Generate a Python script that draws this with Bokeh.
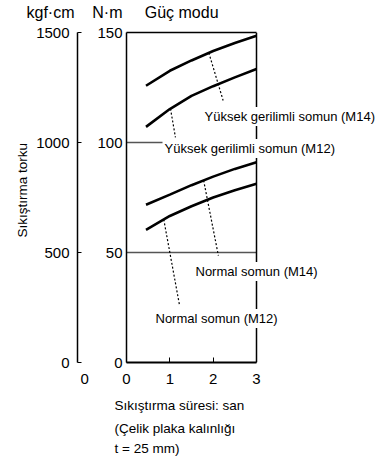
import numpy as np
from bokeh.plotting import figure
from bokeh.models import LinearAxis, Range1d, FixedTicker, Label, Span, Title
from bokeh.embed import file_html
from bokeh.resources import INLINE

# ---------------- data ----------------
time_s = [0.45, 1.0, 1.5, 2.0, 2.5, 3.0]
ht_m14 = [125.8, 132.6, 137.3, 141.6, 145.2, 148.5]
ht_m12 = [107.1, 115.2, 121.2, 125.6, 129.6, 133.4]
n_m14 = [71.7, 76.3, 80.6, 84.5, 88.0, 91.0]
n_m12 = [60.3, 66.6, 71.0, 75.0, 78.3, 81.2]
series_names = ["Yüksek gerilimli somun (M14)", "Yüksek gerilimli somun (M12)",
                "Normal somun (M14)", "Normal somun (M12)"]
x_ticks = [0, 1, 2, 3]
nm_ticks = [0, 50, 100, 150]
kgf_ticks = [0, 500, 1000, 1500]
ref_lines = [50, 100]

FONT = "Liberation Sans"
W, H = 377, 464
FRAME_L, FRAME_T, FRAME_B = 126, 32, 362
AXIS_W = 130  # pixel width of the 0..3 s span

x_end = x_ticks[-1] * (W - FRAME_L) / AXIS_W
FX0, FXS = FRAME_L, AXIS_W / x_ticks[-1]
FY0, FYS = FRAME_B, (FRAME_B - FRAME_T) / nm_ticks[-1]


def dx(px):
    return (px - FX0) / FXS


def dy(py):
    return (FY0 - py) / FYS


p = figure(width=W, height=H, x_range=Range1d(0, x_end), y_range=Range1d(0, nm_ticks[-1]),
           output_backend="svg", toolbar_location=None,
           min_border_left=FRAME_L, min_border_right=0, min_border_top=FRAME_T,
           min_border_bottom=H - FRAME_B)
p.outline_line_color = None
p.xgrid.grid_line_color = None
p.ygrid.grid_line_color = None

# x axis
xa = p.xaxis[0]
xa.ticker = FixedTicker(ticks=x_ticks)
xa.bounds = (x_ticks[0], x_ticks[-1])
xa.major_tick_in = 5
xa.major_tick_out = 0
xa.minor_tick_line_color = None
xa.axis_line_width = 2
xa.major_label_text_font = FONT
xa.major_label_text_font_size = "15px"
xa.major_label_text_color = "black"
xa.major_label_standoff = 7
FS = "\u2007"
xa.major_label_overrides = {0: "0" + FS * 4 + "0" + FS * 5}

# N·m axis
ya = p.yaxis[0]
ya.ticker = FixedTicker(ticks=nm_ticks)
ya.major_tick_in = 0
ya.major_tick_out = 0
ya.minor_tick_line_color = None
ya.axis_line_width = 1.5
ya.major_label_text_font = FONT
ya.major_label_text_font_size = "15px"
ya.major_label_text_color = "black"
ya.major_label_standoff = 4
ya.axis_label = " "
ya.axis_label_text_font_size = "10px"
ya.axis_label_standoff = 3

# kgf·cm axis
p.extra_y_ranges = {"kgf": Range1d(0, kgf_ticks[-1])}
ka = LinearAxis(y_range_name="kgf", ticker=FixedTicker(ticks=kgf_ticks))
ka.major_tick_in = 4
ka.major_tick_out = 0
ka.minor_tick_line_color = None
ka.axis_line_width = 1.5
ka.major_label_text_font = FONT
ka.major_label_text_font_size = "15px"
ka.major_label_text_color = "black"
ka.major_label_standoff = 8
p.add_layout(ka, "left")

# y caption (start of rotated text placed by offset from the frame bottom)
p.add_layout(Title(text="Sıkıştırma torku", align="left", offset=125, standoff=8,
                   text_font=FONT, text_font_size="13.5px", text_font_style="normal",
                   text_color="black"), "left")

# top border as bounded bare axis (its blank label acts as spacer)
ta = LinearAxis(ticker=FixedTicker(ticks=[]), bounds=(x_ticks[0], x_ticks[-1]))
ta.major_tick_line_color = None
ta.minor_tick_line_color = None
ta.major_label_text_font_size = "0px"
ta.major_label_standoff = 0
ta.axis_line_width = 1.5
ta.axis_label = " "
ta.axis_label_text_font_size = "1px"
ta.axis_label_standoff = 8
p.add_layout(ta, "above")

# header texts
NB = "\u00a0"
p.add_layout(Title(text="kgf·cm" + NB * 4 + "N·m" + NB * 5 + "Güç" + NB + "modu",
                   align="left", offset=26 - FRAME_L, standoff=0,
                   text_font=FONT, text_font_size="16px", text_font_style="normal",
                   text_color="black"), "above")

# right border
p.add_layout(Span(location=x_ticks[-1], dimension="height", line_color="black", line_width=1.5))

# reference lines at 50 and 100 N·m, limited to the time span
p.segment(x0=[x_ticks[0]] * len(ref_lines), y0=ref_lines,
          x1=[x_ticks[-1]] * len(ref_lines), y1=ref_lines,
          line_color="#555555", line_width=1.3)

# curves
for ys in (ht_m14, ht_m12, n_m14, n_m12):
    p.line(time_s, ys, line_color="black", line_width=2.6)

# leader lines (curve anchor x, label end point)
leader_x = [1.90, 1.015, 1.78, 0.86]
leader_end = [(2.23, 119.1), (1.13, 102.3), (2.12, 48.6), (1.22, 26.4)]
for ys, lx, (ex, ey) in zip((ht_m14, ht_m12, n_m14, n_m12), leader_x, leader_end):
    ly = float(np.interp(lx, time_s, ys))
    p.segment(x0=[lx], y0=[ly], x1=[ex], y1=[ey], line_color="black",
              line_width=1.2, line_dash="2 2")

# curve labels
label_pos = [(202, 116), (162, 148), (193, 271), (153, 318)]
for name, (lx, ly) in zip(series_names, label_pos):
    p.add_layout(Label(x=dx(lx), y=dy(ly), text=name, text_align="left",
                       text_baseline="middle", text_font=FONT,
                       text_font_size="13px", text_color="black",
                       background_fill_color="white", padding=2))

# x-axis caption (three left-aligned lines)
caption_standoffs = [12, 1, 4]
for line, so in zip(["Sıkıştırma süresi: san", "(Çelik plaka kalınlığı", "t = 25 mm)"],
                    caption_standoffs):
    p.add_layout(Title(text=line, align="left", offset=114 - FRAME_L, standoff=so,
                       text_font=FONT, text_font_size="13.5px", text_font_style="normal",
                       text_color="black"), "below")

open("out.html", "w").write(file_html(p, INLINE))
